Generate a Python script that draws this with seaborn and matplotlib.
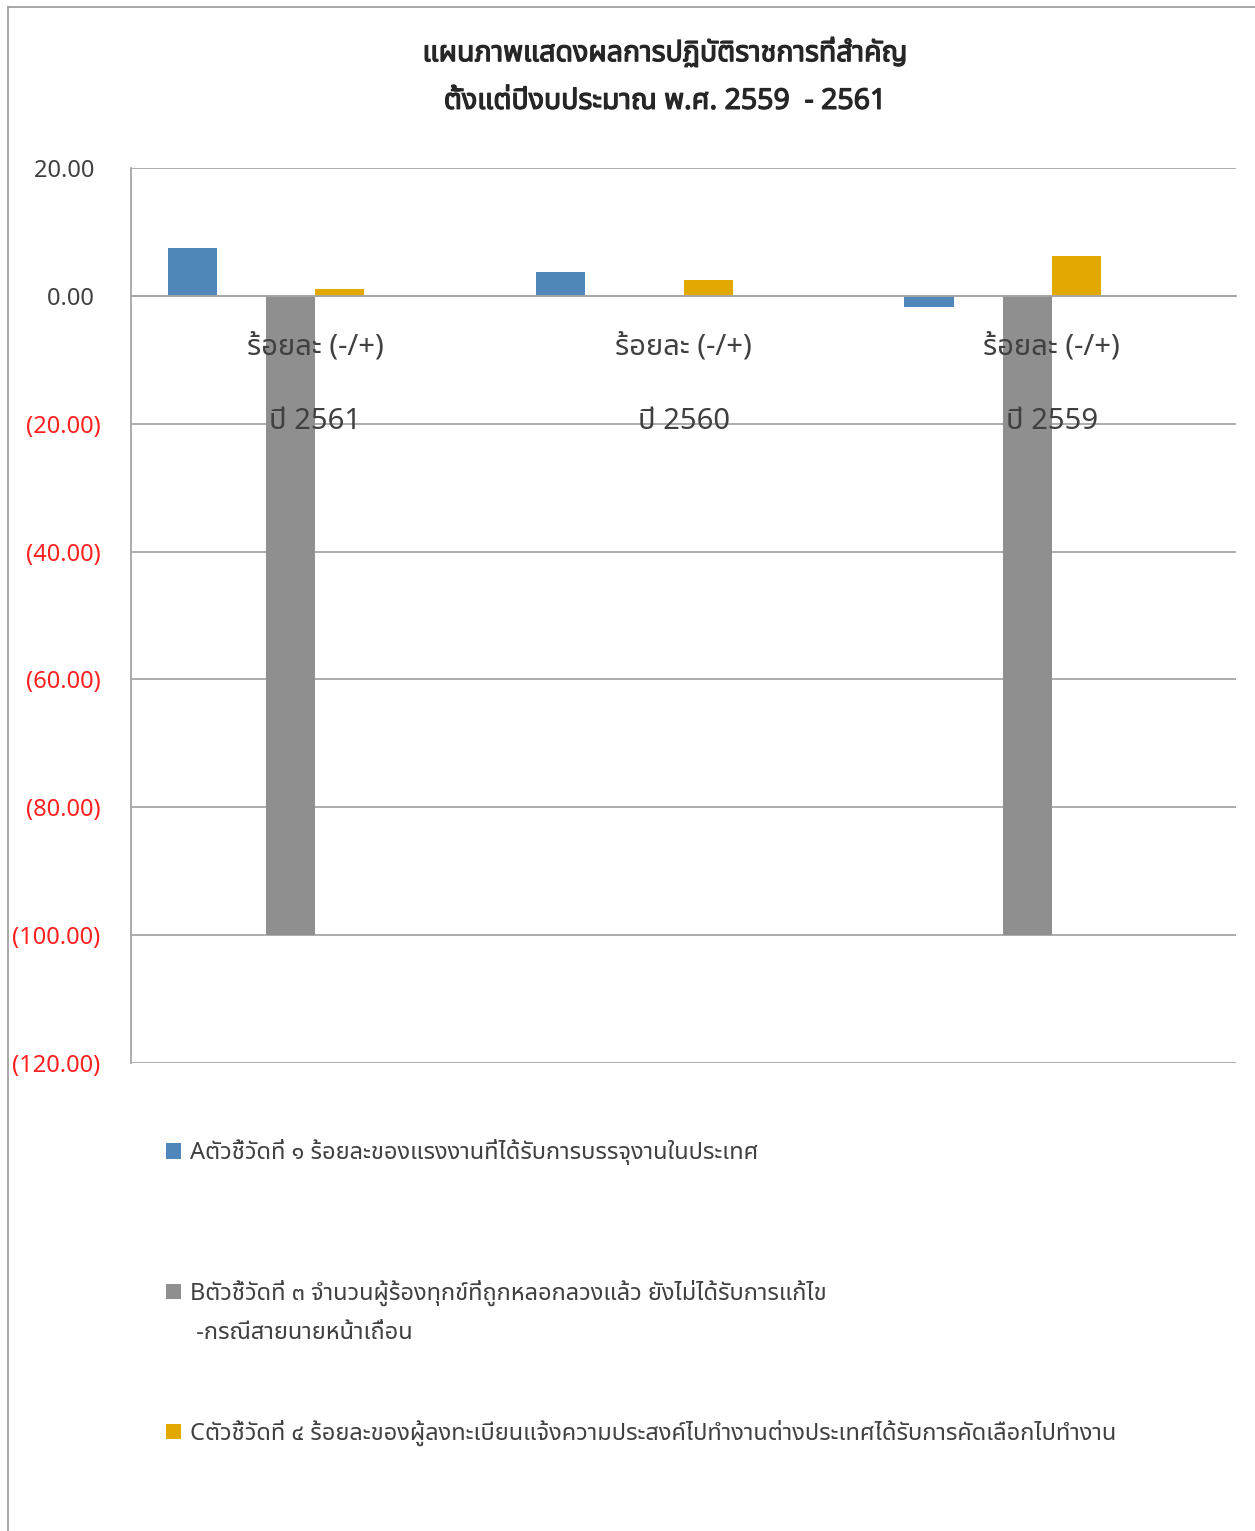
import matplotlib
matplotlib.use("Agg")
import matplotlib.pyplot as plt
import matplotlib.patheffects as pe
import pandas as pd
import seaborn as sns
from matplotlib import font_manager
from matplotlib.ft2font import FT2Font
from matplotlib.lines import Line2D
from matplotlib.patches import Patch
from matplotlib.ticker import FixedLocator

# ---- data -------------------------------------------------------------
categories = ["ปี 2561", "ปี 2560", "ปี 2559"]
category_prefix = "ร้อยละ (-/+)"
series_keys = ["A", "B", "C"]
series_a = [7.5, 3.8, -1.7]
series_b = [-100.0, 0.0, -100.0]
series_c = [1.1, 2.5, 6.2]
legend_labels = [
    "Aตัวชี้วัดที่ ๑ ร้อยละของแรงงานที่ได้รับการบรรจุงานในประเทศ",
    "Bตัวชี้วัดที่ ๓ จำนวนผู้ร้องทุกข์ที่ถูกหลอกลวงแล้ว ยังไม่ได้รับการแก้ไข",
    "Cตัวชี้วัดที่ ๔ ร้อยละของผู้ลงทะเบียนแจ้งความประสงค์ไปทำงานต่างประเทศได้รับการคัดเลือกไปทำงาน",
]
legend_b_extra = " -กรณีสายนายหน้าเถื่อน"
y_ticks = [20, 0, -20, -40, -60, -80, -100, -120]
title_text = "แผนภาพแสดงผลการปฏิบัติราชการที่สำคัญ\nตั้งแต่ปีงบประมาณ พ.ศ. 2559  - 2561"

# ---- fonts: pick an installed family that carries Thai glyphs ---------
def thai_families():
    found = []
    for entry in font_manager.fontManager.ttflist:
        try:
            cmap = FT2Font(entry.fname).get_charmap()
        except Exception:
            continue
        if 0x0E01 in cmap and 0x0E33 in cmap and 0x0E51 in cmap:
            if entry.name not in found:
                found.append(entry.name)
    preferred = ["Tahoma", "Leelawadee UI", "Leelawadee", "Noto Sans Thai",
                 "Noto Sans Thai UI", "Loma", "Garuda", "Sarabun"]
    found.sort(key=lambda n: preferred.index(n) if n in preferred else len(preferred))
    return found

sns.set_style("white")
thai = thai_families()
families = thai + ["DejaVu Sans"]
plt.rcParams["font.family"] = families

# ---- long-form table for seaborn -------------------------------------
rows = []
for key, vals in zip(series_keys, [series_a, series_b, series_c]):
    for cat, v in zip(categories, vals):
        rows.append({"category": cat, "series": key, "value": v})
df = pd.DataFrame(rows)

# six bar slots per category, three of them left empty
hue_order = ["A", "s2", "B", "C", "s5", "s6"]
palette = {"A": "#4F87BA", "s2": "#FFFFFF", "B": "#8F8F8F",
           "C": "#E2A900", "s5": "#FFFFFF", "s6": "#FFFFFF"}

W, H = 1255, 1531
fig = plt.figure(figsize=(W / 100, H / 100), dpi=100)
ax = fig.add_axes([131 / W, 1 - 1063 / H, (1236 - 131) / W, (1063 - 168) / H])

sns.barplot(data=df, x="category", y="value", hue="series", order=categories,
            hue_order=hue_order, palette=palette, width=0.8, saturation=1,
            linewidth=0, errorbar=None, legend=False, ax=ax, zorder=2)

ax.set_xlim(-0.5, len(categories) - 0.5)
ax.set_ylim(-120, 20)
ax.set_xlabel("")
ax.set_ylabel("")

grid_col = "#A6A6A6"
ax.set_axisbelow(True)
ax.yaxis.grid(True, color=grid_col, linewidth=1.3)
ax.xaxis.grid(False)

for side in ["top", "right"]:
    ax.spines[side].set_visible(False)
ax.spines["left"].set_color(grid_col)
ax.spines["left"].set_linewidth(1.3)
ax.spines["bottom"].set_position(("data", 0))
ax.spines["bottom"].set_color(grid_col)
ax.spines["bottom"].set_linewidth(1.3)

# y axis labels, negatives in red parentheses
ax.set_yticks(y_ticks)
ylabels = [f"{v:.2f} " if v >= 0 else f"({abs(v):.2f})" for v in y_ticks]
ax.set_yticklabels(ylabels)
ax.tick_params(axis="y", length=0, pad=22, labelsize=17)
for lab, v in zip(ax.get_yticklabels(), y_ticks):
    lab.set_color("#404040" if v >= 0 else "#FF2020")

# category boundaries as long ticks hanging under the zero line
ax.set_xticks(range(len(categories)))
ax.set_xticklabels([])
ax.tick_params(axis="x", which="major", length=0)
ax.xaxis.set_minor_locator(FixedLocator([i - 0.5 for i in range(len(categories) + 1)]))
ax.tick_params(axis="x", which="minor", length=107, width=1.1, color=grid_col,
               direction="out")

# category labels, written on top of the bars
for i, cat in enumerate(categories):
    ax.text(i, -8.0, category_prefix, ha="center", va="center", fontsize=21,
            color="#404040", zorder=6)
    ax.text(i, -19.6, cat, ha="center", va="center", fontsize=21,
            color="#404040", zorder=6)

# title
fig.text(665 / W, 1 - 77 / H, title_text, ha="center", va="center",
         fontsize=20.5, fontweight="bold", color="#262626", linespacing=1.85,
         path_effects=[pe.withStroke(linewidth=0.9, foreground="#262626")])

# legend entries, one block each
legend_y = [1152, 1293, 1433]
for key, label, yy in zip(series_keys, legend_labels, legend_y):
    fig.legend(handles=[Patch(facecolor=palette[key], edgecolor="none")],
               labels=[label], loc="center left",
               bbox_to_anchor=(166 / W, 1 - yy / H), frameon=False,
               fontsize=17, handlelength=0.64, handleheight=0.64,
               handletextpad=0.38, borderpad=0, borderaxespad=0,
               labelcolor="#404040")
fig.text(190 / W, 1 - 1333 / H, legend_b_extra, ha="left", va="center",
         fontsize=17, color="#404040")

# outer chart border (left and top edges)
border = "#A0A0A0"
fig.add_artist(Line2D([8 / W, 8 / W], [0, 1 - 7 / H], transform=fig.transFigure,
                      color=border, linewidth=1.3))
fig.add_artist(Line2D([8 / W, 1], [1 - 7 / H, 1 - 7 / H], transform=fig.transFigure,
                      color=border, linewidth=1.3))

fig.savefig("out.png", dpi=100, facecolor="white")
